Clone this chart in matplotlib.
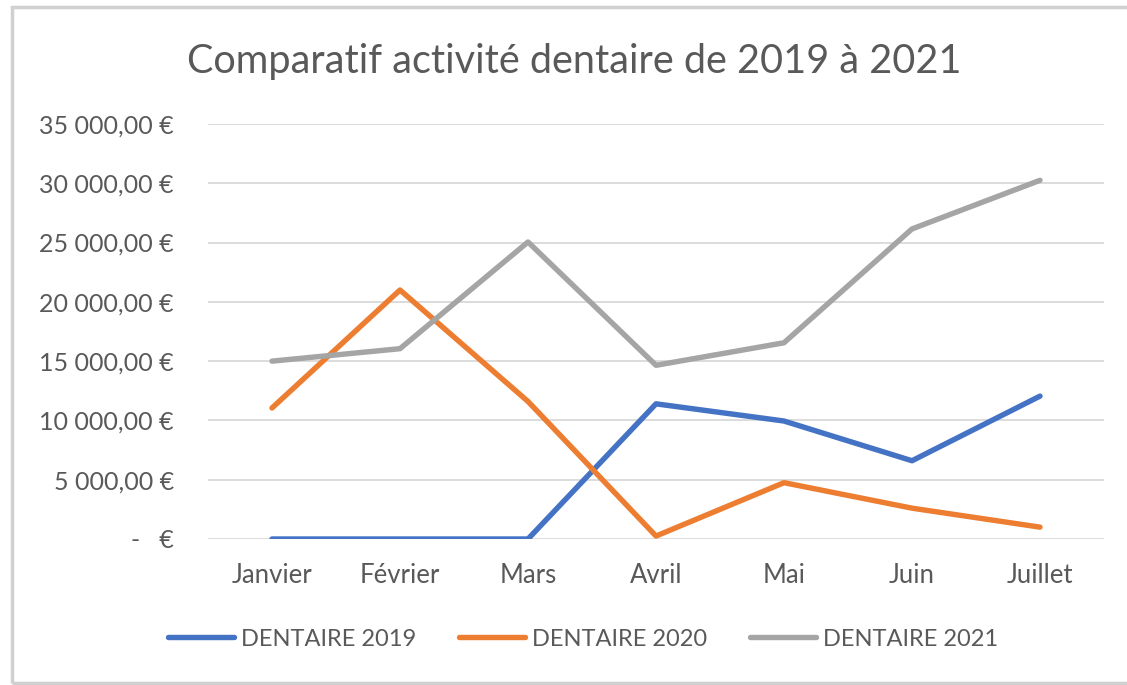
import matplotlib
matplotlib.use("Agg")
import matplotlib.pyplot as plt
from matplotlib.ticker import FuncFormatter, MultipleLocator
from matplotlib.patches import Rectangle

months = ["Janvier", "Février", "Mars", "Avril", "Mai", "Juin", "Juillet"]
dentaire_2019 = [0, 0, 0, 11400, 9950, 6600, 12050]
dentaire_2020 = [11050, 21000, 11600, 250, 4750, 2600, 1000]
dentaire_2021 = [15000, 16050, 25050, 14650, 16550, 26150, 30250]

series = [("DENTAIRE 2019", dentaire_2019, "#4472C4"),
          ("DENTAIRE 2020", dentaire_2020, "#ED7D31"),
          ("DENTAIRE 2021", dentaire_2021, "#A5A5A5")]

plt.rcParams['font.family'] = ['Lato', 'DejaVu Sans']
text_color = "#595959"

W, H = 1127, 685
fig = plt.figure(figsize=(W / 100, H / 100), dpi=100)

# chart border
fig.add_artist(Rectangle((12 / W, 1 - 683 / H), (1140 - 12) / W, (683 - 7) / H,
                         transform=fig.transFigure, fill=False,
                         edgecolor="#D0D0D0", linewidth=2.5))

ax = fig.add_axes([208 / W, 1 - 539 / H, (1104 - 208) / W, (539 - 124) / H])

x = list(range(len(months)))
for name, vals, col in series:
    ax.plot(x, vals, color=col, linewidth=3.9, solid_capstyle="round",
            solid_joinstyle="round", label=name, zorder=3)

ax.set_xlim(-0.5, len(months) - 0.5)
ax.set_ylim(0, 35000)
ax.yaxis.set_major_locator(MultipleLocator(5000))


def fmt(v, pos):
    if abs(v) < 1e-6:
        return "-   €"
    s = f"{int(round(v)):,}".replace(",", " ")
    return f"{s},00 €"


ax.yaxis.set_major_formatter(FuncFormatter(fmt))
ax.set_xticks(x)
ax.set_xticklabels(months)
ax.grid(axis="y", color="#D9D9D9", linewidth=1.3, zorder=0)
for sp in ax.spines.values():
    sp.set_visible(False)
ax.tick_params(axis="both", length=0, colors=text_color)
ax.tick_params(axis="y", pad=24.5, labelsize=18)
ax.tick_params(axis="x", pad=17, labelsize=18.5)

fig.text(574 / W, 1 - 62 / H, "Comparatif activité dentaire de 2019 à 2021",
         ha="center", va="center", fontsize=28.5, color=text_color)

leg = fig.legend(loc="center", bbox_to_anchor=(583 / W, 1 - 639 / H), ncol=3,
                 frameon=False, fontsize=17, handlelength=2.8,
                 handletextpad=0.3, columnspacing=1.8)
for t in leg.get_texts():
    t.set_color(text_color)
for h in leg.get_lines():
    h.set_solid_capstyle("round")

fig.savefig("out.png", dpi=100)
